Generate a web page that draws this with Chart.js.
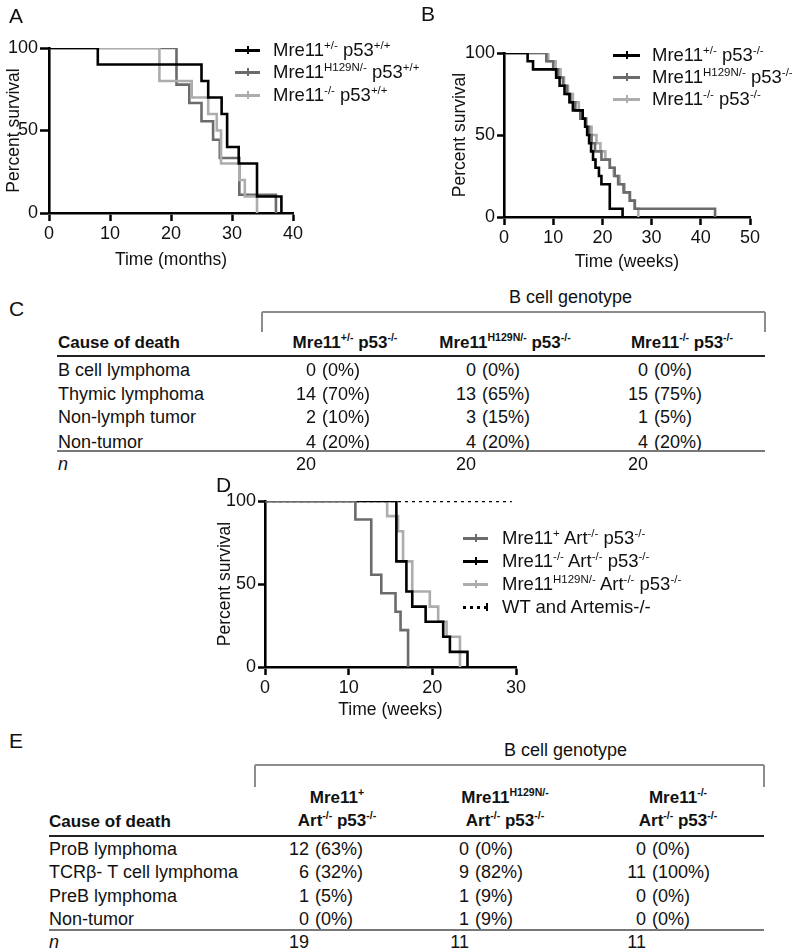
<!DOCTYPE html>
<html><head><meta charset="utf-8">
<script src="https://cdn.jsdelivr.net/npm/chart.js@4.4.0/dist/chart.umd.min.js"></script>
<style>
html,body{margin:0;padding:0;background:#fff;}
body{width:800px;height:949px;position:relative;overflow:hidden;font-family:"Liberation Sans",Arial,Helvetica,sans-serif;color:#111;}
.t{position:absolute;white-space:nowrap;line-height:1;font-size:18px;}
sup{font-size:0.62em;vertical-align:0.62em;line-height:0;}
canvas{position:absolute;}
</style></head><body>
<canvas id="cA" width="400" height="271" style="left:0px;top:0px;"></canvas>
<canvas id="cB" width="400" height="273" style="left:400px;top:0px;"></canvas>
<canvas id="cD" width="340" height="251" style="left:200px;top:470px;"></canvas>
<script>
// ---------- Panel A: Mre11 / p53+/+ survival (months) ----------
const aTimesHet = [0, 8, 25, 26.1, 28.3, 29.2, 31.1, 34.1, 38.1];
const aSurvHet  = [100, 90, 80, 70, 60, 40, 30, 10, 0];
const aTimesH129 = [0, 20.9, 23.0, 25.0, 26.9, 28.0, 31.2, 37.2];
const aSurvH129  = [100, 77.8, 66.7, 55.6, 44.4, 33.3, 11.1, 0];
const aTimesKO = [0, 18.1, 23.4, 26.1, 27.5, 28.2, 31.2, 32.1, 34.1];
const aSurvKO  = [100, 80, 70, 60, 50, 30, 20, 10, 0];
const aXTicks = [0, 10, 20, 30, 40];
const aYTicks = [0, 50, 100];

// ---------- Panel B: p53-/- survival (weeks) ----------
const bTimesHet = [0, 4.8, 5.9, 10.6, 11.3, 12.3, 13.3, 14.0, 16.0, 16.5, 16.9, 17.3, 17.7, 18.1, 18.6, 19.3, 19.8, 21.5, 24.1];
const bSurvHet  = [100, 95, 90, 85, 80, 75, 70, 65, 60, 55, 50, 45, 40, 35, 30, 25, 20, 5, 0];
const bTimesH129 = [0, 8.6, 10, 11, 12, 12.8, 13.5, 14.5, 15.5, 16.5, 17.3, 17.8, 18.5, 19.8, 21.5, 22.5, 23.2, 24.3, 25.6, 26.6, 42.9];
const bSurvH129  = [100, 95, 90, 85, 80, 75, 70, 65, 60, 55, 50, 45, 40, 35, 30, 25, 20, 15, 10, 5, 0];
const bTimesKO = [0, 9.0, 10.5, 11.5, 12.2, 13, 14, 15.2, 16, 16.8, 17.8, 18.8, 19.6, 20.6, 21.5, 22.3, 23.5, 24.5, 25.5, 26.5, 27.3];
const bSurvKO  = [100, 95, 90, 85, 80, 75, 70, 65, 60, 55, 50, 45, 40, 35, 30, 25, 20, 15, 10, 5, 0];
const bXTicks = [0, 10, 20, 30, 40, 50];
const bYTicks = [0, 50, 100];

// ---------- Panel D: Artemis-/- p53-/- survival (weeks) ----------
const dTimesPlus = [0, 10.8, 12.7, 13.9, 15.6, 16.2, 17.1];
const dSurvPlus  = [100, 88.9, 55.6, 44.4, 33.3, 22.2, 0];
const dTimesKO = [0, 15.7, 16.9, 17.6, 19.2, 21.3, 22.1, 24.2];
const dSurvKO  = [100, 63.6, 45.5, 36.4, 27.3, 18.2, 9.1, 0];
const dTimesH129 = [0, 14.6, 15.9, 16.5, 17.6, 19.7, 20.7, 21.7, 23.3];
const dSurvH129  = [100, 90.9, 81.8, 63.6, 45.5, 36.4, 27.3, 18.2, 0];
const dTimesWT = [0, 29.5];
const dSurvWT  = [100, 100];
const dXTicks = [0, 10, 20, 30];
const dYTicks = [0, 50, 100];

// ---------- Tables ----------
const cCauses = ['B cell lymphoma', 'Thymic lymphoma', 'Non-lymph tumor', 'Non-tumor'];
const cHet = [0, 14, 2, 4];     const cHetPct = [0, 70, 10, 20];
const cH129 = [0, 13, 3, 4];    const cH129Pct = [0, 65, 15, 20];
const cKO = [0, 15, 1, 4];      const cKOPct = [0, 75, 5, 20];
const cN = [20, 20, 20];
const cHeaders = ['Mre11<sup>+/-</sup> p53<sup>-/-</sup>', 'Mre11<sup>H129N/-</sup> p53<sup>-/-</sup>', 'Mre11<sup>-/-</sup> p53<sup>-/-</sup>'];

const eCauses = ['ProB lymphoma', 'TCRβ- T cell lymphoma', 'PreB lymphoma', 'Non-tumor'];
const ePlus = [12, 6, 1, 0];    const ePlusPct = [63, 32, 5, 0];
const eH129 = [0, 9, 1, 1];     const eH129Pct = [0, 82, 9, 9];
const eKO = [0, 11, 0, 0];      const eKOPct = [0, 100, 0, 0];
const eN = [19, 11, 11];
const eHeaders1 = ['Mre11<sup>+</sup>', 'Mre11<sup>H129N/-</sup>', 'Mre11<sup>-/-</sup>'];
const eHeaders2 = ['Art<sup>-/-</sup> p53<sup>-/-</sup>', 'Art<sup>-/-</sup> p53<sup>-/-</sup>', 'Art<sup>-/-</sup> p53<sup>-/-</sup>'];

const BLACK = '#000000', DARK = '#6b6b6b', LIGHT = '#adadad';
const FONT = '"Liberation Sans", Arial, Helvetica, sans-serif';

function km(ts, ss) { return ts.map((t, i) => ({x: t, y: ss[i]})); }

function ds(ts, ss, color, dash) {
  return {data: km(ts, ss), borderColor: color, backgroundColor: color, borderWidth: 2.6,
          stepped: 'before', pointRadius: 0, fill: false, borderDash: dash || [],
          borderCapStyle: 'butt', borderJoinStyle: 'miter'};
}

function makeChart(id, datasets, o) {
  const tickFont = {family: FONT, size: 18};
  const titleFont = {family: FONT, size: 17.5};
  new Chart(document.getElementById(id), {
    type: 'line',
    data: {datasets},
    options: {
      responsive: false, animation: false, devicePixelRatio: 1,
      layout: {padding: {left: 0, top: o.padTop, right: o.padRight, bottom: 0}},
      plugins: {legend: {display: false}, tooltip: {enabled: false}},
      scales: {
        x: {
          type: 'linear', min: 0, max: o.xTicks[o.xTicks.length - 1],
          afterBuildTicks: s => { s.ticks = o.xTicks.map(v => ({value: v})); },
          ticks: {color: '#111', font: tickFont, padding: 2, maxRotation: 0, autoSkip: false},
          grid: {drawOnChartArea: false, drawTicks: true, tickLength: 8, color: '#000', tickColor: '#000', tickWidth: 2.5},
          border: {display: true, color: '#000', width: 2.6},
          title: {display: true, text: o.xTitle, color: '#111', font: titleFont, padding: {top: 0, bottom: 0}},
          afterFit: s => { s.height = o.xHeight; }
        },
        y: {
          type: 'linear', min: 0, max: 100,
          afterBuildTicks: s => { s.ticks = o.yTicks.map(v => ({value: v})); },
          ticks: {color: '#111', font: tickFont, padding: 2, autoSkip: false},
          grid: {drawOnChartArea: false, drawTicks: true, tickLength: o.yTick, color: '#000', tickColor: '#000', tickWidth: 2.5},
          border: {display: true, color: '#000', width: 2.6},
          title: {display: true, text: 'Percent survival', color: '#111', font: titleFont, padding: {top: o.yTitlePad, bottom: 0}},
          afterFit: s => { s.width = o.yWidth; }
        }
      }
    }
  });
}

makeChart('cA', [ds(aTimesHet, aSurvHet, BLACK), ds(aTimesKO, aSurvKO, LIGHT), ds(aTimesH129, aSurvH129, DARK)],
  {padTop: 48, padRight: 107, xHeight: 58, yWidth: 49, yTick: 9, yTitlePad: 4, xTicks: aXTicks, yTicks: aYTicks, xTitle: 'Time (months)'});
makeChart('cB', [ds(bTimesHet, bSurvHet, BLACK), ds(bTimesH129, bSurvH129, DARK), ds(bTimesKO, bSurvKO, LIGHT)],
  {padTop: 53, padRight: 50, xHeight: 56, yWidth: 104, yTick: 7, yTitlePad: 49.5, xTicks: bXTicks, yTicks: bYTicks, xTitle: 'Time (weeks)'});
makeChart('cD', [ds(dTimesPlus, dSurvPlus, DARK), ds(dTimesKO, dSurvKO, BLACK), ds(dTimesH129, dSurvH129, LIGHT), ds(dTimesWT, dSurvWT, BLACK, [3, 4])],
  {padTop: 31, padRight: 24, xHeight: 54, yWidth: 65, yTick: 7, yTitlePad: 14.5, xTicks: dXTicks, yTicks: dYTicks, xTitle: 'Time (weeks)'});

// ---------- HTML text helpers ----------
function T(x, y, html, opt) {
  opt = opt || {};
  const d = document.createElement('div');
  d.className = 't';
  d.innerHTML = html;
  d.style.left = x + 'px';
  d.style.top = y + 'px';
  const ax = opt.align === 'center' ? '-50%' : (opt.align === 'right' ? '-100%' : '0');
  d.style.transform = 'translate(' + ax + ',-50%)';
  if (opt.size) d.style.fontSize = opt.size + 'px';
  if (opt.bold) d.style.fontWeight = 'bold';
  if (opt.italic) d.style.fontStyle = 'italic';
  document.body.appendChild(d);
}
function HL(x1, x2, y, w, color) {
  const d = document.createElement('div');
  d.style.position = 'absolute'; d.style.left = x1 + 'px'; d.style.top = (y - w / 2) + 'px';
  d.style.width = (x2 - x1) + 'px'; d.style.height = w + 'px'; d.style.background = color;
  document.body.appendChild(d);
}
function VL(x, y1, y2, w, color) {
  const d = document.createElement('div');
  d.style.position = 'absolute'; d.style.left = (x - w / 2) + 'px'; d.style.top = y1 + 'px';
  d.style.width = w + 'px'; d.style.height = (y2 - y1) + 'px'; d.style.background = color;
  document.body.appendChild(d);
}
function legRow(x1, x2, y, color, textX, html, dotted) {
  if (dotted) {
    for (let x = x1; x < x2; x += 7) HL(x, Math.min(x + 3, x2), y, 3, color);
    VL(x2 - 1, y - 4, y + 4, 2, color);
  } else {
    HL(x1, x2, y, 3, color);
    VL((x1 + x2) / 2, y - 4, y + 4, 2, color);
  }
  T(textX, y, html, {size: 18.5});
}

// Panel letters
T(9, 15, 'A', {size: 21});
T(421, 13, 'B', {size: 21});
T(9, 308, 'C', {size: 21});
T(216, 484, 'D', {size: 21});
T(9, 740, 'E', {size: 21});

// Legends
legRow(235, 260, 50, BLACK, 273, 'Mre11<sup>+/-</sup> p53<sup>+/+</sup>');
legRow(235, 260, 72, DARK, 273, 'Mre11<sup>H129N/-</sup> p53<sup>+/+</sup>');
legRow(235, 260, 95, LIGHT, 273, 'Mre11<sup>-/-</sup> p53<sup>+/+</sup>');

legRow(613, 640, 55, BLACK, 652, 'Mre11<sup>+/-</sup> p53<sup>-/-</sup>');
legRow(613, 640, 77, DARK, 652, 'Mre11<sup>H129N/-</sup> p53<sup>-/-</sup>');
legRow(613, 640, 99, LIGHT, 652, 'Mre11<sup>-/-</sup> p53<sup>-/-</sup>');

legRow(463, 488, 538, DARK, 502, 'Mre11<sup>+</sup> Art<sup>-/-</sup> p53<sup>-/-</sup>');
legRow(463, 488, 561, BLACK, 502, 'Mre11<sup>-/-</sup> Art<sup>-/-</sup> p53<sup>-/-</sup>');
legRow(463, 488, 584, LIGHT, 502, 'Mre11<sup>H129N/-</sup> Art<sup>-/-</sup> p53<sup>-/-</sup>');
legRow(463, 488, 607, BLACK, 502, 'WT and Artemis-/-', true);

// ---------- Table C ----------
T(509, 297, 'B cell genotype');
HL(262, 765, 312, 1.5, '#8c8c8c'); VL(262, 312, 332, 1.5, '#8c8c8c'); VL(765, 312, 332, 1.5, '#8c8c8c');
T(58, 342, 'Cause of death', {bold: true, size: 17});
const cHeadX = [345, 505, 682];
cHeaders.forEach((h, i) => T(cHeadX[i], 342, h, {bold: true, align: 'center', size: 17}));
HL(57, 765, 356, 2, '#222');
const cRowY = [370, 393.5, 417, 441.7];
const cNumX = [316, 476, 648];
const cCols = [[cHet, cHetPct], [cH129, cH129Pct], [cKO, cKOPct]];
cCauses.forEach((c, r) => {
  T(58, cRowY[r], c);
  cCols.forEach((col, k) => {
    T(cNumX[k], cRowY[r], String(col[0][r]), {align: 'right'});
    T(cNumX[k] + 6, cRowY[r], '(' + col[1][r] + '%)');
  });
});
HL(57, 765, 451, 1.2, '#777');
T(58, 463.5, 'n', {italic: true});
cN.forEach((n, k) => T(cNumX[k], 463.5, String(n), {align: 'right'}));

// ---------- Table E ----------
T(504, 750, 'B cell genotype');
HL(255, 764, 765, 1.5, '#8c8c8c'); VL(255, 765, 787, 1.5, '#8c8c8c'); VL(764, 765, 787, 1.5, '#8c8c8c');
const eHeadX = [337, 505, 678];
eHeaders1.forEach((h, i) => T(eHeadX[i], 797, h, {bold: true, align: 'center', size: 17}));
eHeaders2.forEach((h, i) => T(eHeadX[i], 820, h, {bold: true, align: 'center', size: 17}));
T(49, 821, 'Cause of death', {bold: true, size: 17});
HL(49, 764, 836, 2, '#222');
const eRowY = [849.3, 872.3, 895.7, 919];
const eNumX = [309, 469, 646];
const eCols = [[ePlus, ePlusPct], [eH129, eH129Pct], [eKO, eKOPct]];
eCauses.forEach((c, r) => {
  T(49, eRowY[r], c);
  eCols.forEach((col, k) => {
    T(eNumX[k], eRowY[r], String(col[0][r]), {align: 'right'});
    T(eNumX[k] + 6, eRowY[r], '(' + col[1][r] + '%)');
  });
});
HL(49, 764, 930, 1.2, '#777');
T(49, 941.7, 'n', {italic: true});
eN.forEach((n, k) => T(eNumX[k], 941.7, String(n), {align: 'right'}));
</script>
</body></html>
